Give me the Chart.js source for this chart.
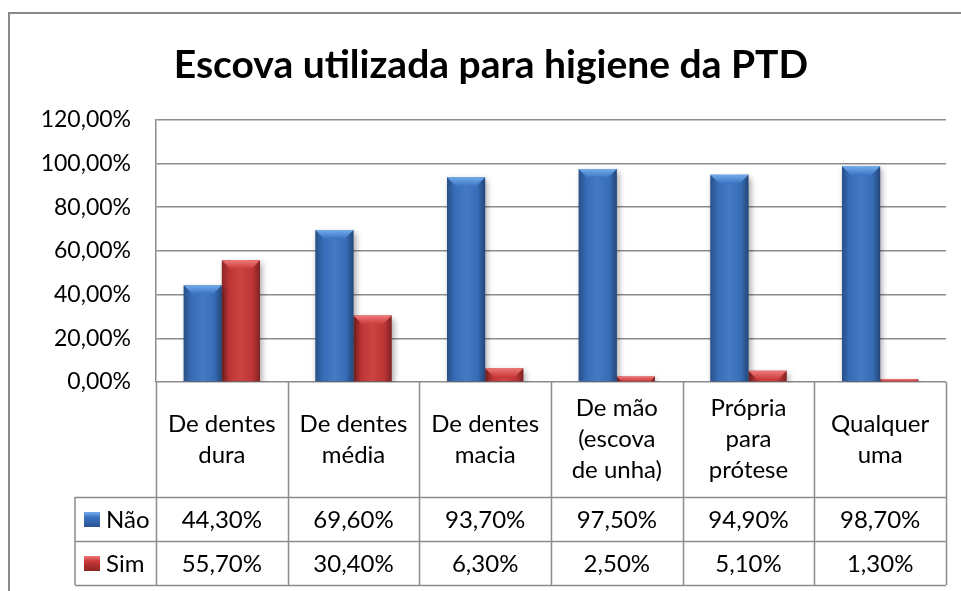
<!DOCTYPE html>
<html>
<head>
<meta charset="utf-8">
<script src="https://cdn.jsdelivr.net/npm/chart.js@4.4.1/dist/chart.umd.min.js"></script>
<style>
  body { margin: 0; background: #fff; }
  #wrap { width: 961px; height: 591px; }
</style>
</head>
<body>
<div id="wrap"><canvas id="myChart" width="961" height="591"></canvas></div>
<script>
const chartTitle = "Escova utilizada para higiene da PTD";
const labels = [
  ["De dentes", "dura"],
  ["De dentes", "média"],
  ["De dentes", "macia"],
  ["De mão", "(escova", "de unha)"],
  ["Própria", "para", "prótese"],
  ["Qualquer", "uma"]
];
const seriesNames = ["Não", "Sim"];
const nao = [44.3, 69.6, 93.7, 97.5, 94.9, 98.7];
const sim = [55.7, 30.4, 6.3, 2.5, 5.1, 1.3];
const yTicks = [0, 20, 40, 60, 80, 100, 120];

const colors = ["#3a72c0", "#c93838"];
const bevelColors = ["#74acee", "#ee7878"];
const fmt = (v) => v.toFixed(2).replace(".", ",") + "%";

const FONT = "Lato, 'Open Sans', sans-serif";
const lineColor = "#8c8c8c";
const padLeft = 36;

// frame, bar bevels and the data table below the plot
const excelLook = {
  id: "excelLook",
  beforeDraw(chart) {
    const ctx = chart.ctx;
    ctx.save();
    ctx.strokeStyle = "#8a8a8a";
    ctx.lineWidth = 2;
    ctx.strokeRect(9, 13, 1000, 1000);
    ctx.restore();
  },
  beforeDatasetsDraw(chart) {
    const ctx = chart.ctx;
    ctx.save();
    ctx.shadowColor = "rgba(0,0,0,0.35)";
    ctx.shadowBlur = 6;
    ctx.shadowOffsetX = 2;
    ctx.shadowOffsetY = 3;
  },
  afterDatasetsDraw(chart) {
    const ctx = chart.ctx;
    ctx.restore();
    ctx.save();
    chart.data.datasets.forEach((ds, di) => {
      chart.getDatasetMeta(di).data.forEach((bar) => {
        const l = bar.x - bar.width / 2, r = bar.x + bar.width / 2;
        const t = bar.y, b = bar.base;
        const h = b - t;
        // side shading
        const g = ctx.createLinearGradient(l, 0, r, 0);
        g.addColorStop(0, "rgba(0,0,0,0.3)");
        g.addColorStop(0.2, "rgba(0,0,0,0.05)");
        g.addColorStop(0.5, "rgba(255,255,255,0.06)");
        g.addColorStop(0.8, "rgba(0,0,0,0.05)");
        g.addColorStop(1, "rgba(0,0,0,0.38)");
        ctx.fillStyle = g;
        ctx.fillRect(l, t, r - l, h);
        // top bevel
        const bv = Math.min(9, h);
        const tg = ctx.createLinearGradient(0, t, 0, t + bv);
        tg.addColorStop(0, bevelColors[di]);
        tg.addColorStop(1, colors[di]);
        ctx.fillStyle = tg;
        ctx.beginPath();
        ctx.moveTo(l, t);
        ctx.lineTo(r, t);
        ctx.lineTo(r - bv, t + bv);
        ctx.lineTo(l + bv, t + bv);
        ctx.closePath();
        ctx.fill();
      });
    });
    ctx.restore();
  },
  afterDraw(chart) {
    const ctx = chart.ctx;
    const xs = chart.scales.x;
    const area = chart.chartArea;
    const n = labels.length;
    const step = (area.right - area.left) / n;
    const top = area.bottom;
    const headBottom = 497;
    const rowH = 44;
    const tableBottom = headBottom + rowH * 2;
    const legendLeft = 75;

    ctx.save();
    ctx.strokeStyle = lineColor;
    ctx.lineWidth = 1.5;
    ctx.beginPath();
    // vertical lines
    for (let i = 0; i <= n; i++) {
      const x = Math.round(area.left + step * i) + 0.5;
      ctx.moveTo(x, top);
      ctx.lineTo(x, tableBottom);
    }
    ctx.moveTo(legendLeft, headBottom);
    ctx.lineTo(legendLeft, tableBottom);
    // horizontal lines
    [headBottom, headBottom + rowH, tableBottom].forEach((y) => {
      ctx.moveTo(legendLeft, y + 0.5);
      ctx.lineTo(area.right, y + 0.5);
    });
    ctx.stroke();

    ctx.fillStyle = "#000";
    ctx.font = "24px " + FONT;
    ctx.textAlign = "center";
    ctx.textBaseline = "middle";
    // header with category names
    labels.forEach((lines, i) => {
      const cx = xs.getPixelForValue(i);
      const lh = 31;
      const y0 = (top + headBottom) / 2 - (lines.length - 1) * lh / 2;
      lines.forEach((s, k) => ctx.fillText(s, cx, y0 + k * lh));
    });
    // values
    [nao, sim].forEach((vals, r) => {
      const cy = headBottom + rowH * r + rowH / 2 + 1;
      vals.forEach((v, i) => {
        ctx.fillText(fmt(v), xs.getPixelForValue(i), cy);
      });
      // legend key
      const gx = 84, gy = cy - 8;
      const kg = ctx.createLinearGradient(0, gy, 0, gy + 15);
      kg.addColorStop(0, bevelColors[r]);
      kg.addColorStop(0.35, colors[r]);
      kg.addColorStop(1, r === 0 ? "#2a5494" : "#8f2424");
      ctx.fillStyle = kg;
      ctx.fillRect(gx, gy, 16, 15);
      ctx.fillStyle = "#000";
      ctx.textAlign = "left";
      ctx.fillText(seriesNames[r], 106, cy);
      ctx.textAlign = "center";
    });
    ctx.restore();
  }
};

new Chart("myChart", {
  type: "bar",
  data: {
    labels: labels,
    datasets: [
      { label: seriesNames[0], data: nao, backgroundColor: colors[0] },
      { label: seriesNames[1], data: sim, backgroundColor: colors[1] }
    ]
  },
  options: {
    responsive: false,
    animation: false,
    layout: { padding: { left: padLeft, right: 15, bottom: 209, top: 0 } },
    datasets: {
      bar: { categoryPercentage: 0.58, barPercentage: 1.0 }
    },
    plugins: {
      legend: { display: false },
      tooltip: { enabled: false },
      title: {
        display: true,
        text: chartTitle,
        color: "#000",
        font: { family: FONT, size: 39, weight: "bold" },
        padding: { top: 42, bottom: 31 }
      }
    },
    scales: {
      x: { display: false },
      y: {
        min: 0,
        max: 120,
        afterFit(scale) { scale.width = 156 - padLeft; },
        afterBuildTicks(scale) { scale.ticks = yTicks.map((v) => ({ value: v })); },
        ticks: {
          padding: 25,
          color: "#000",
          font: { family: FONT, size: 23 },
          callback: (v) => fmt(v)
        },
        grid: { color: lineColor, lineWidth: 1.5, drawTicks: false },
        border: { color: lineColor, width: 1.5 }
      }
    }
  },
  plugins: [excelLook]
});
</script>
</body>
</html>
